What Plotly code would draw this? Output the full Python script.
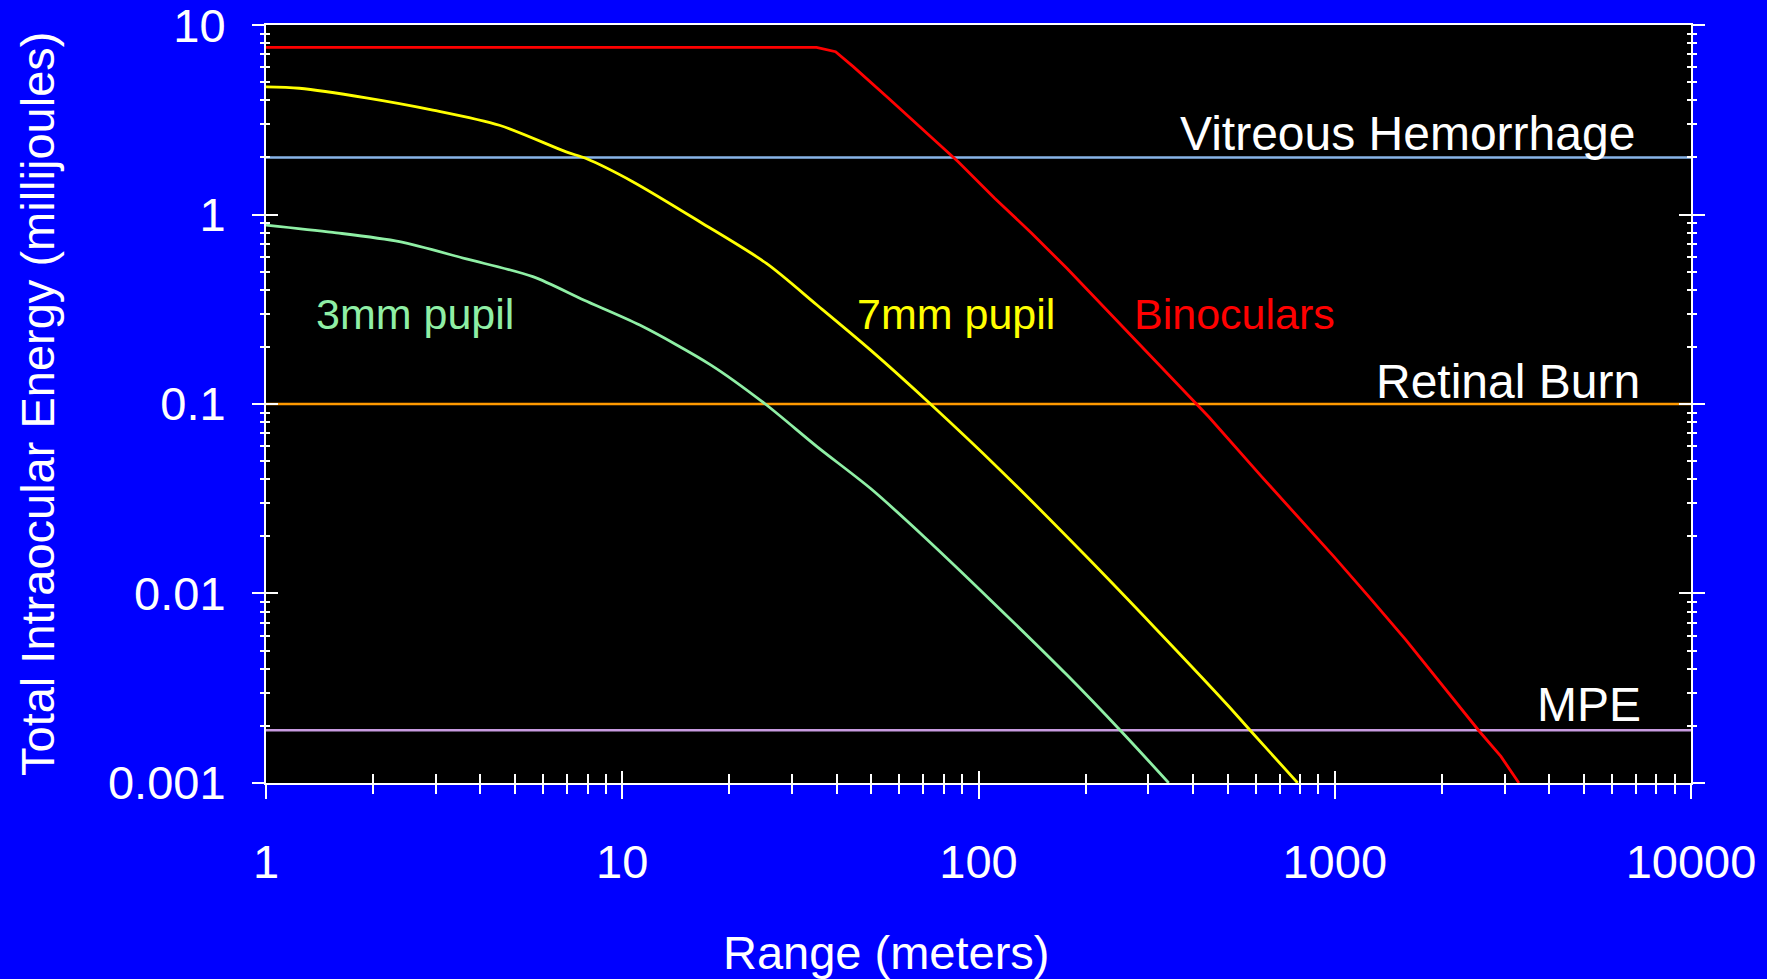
import plotly.graph_objects as go

# ---------------- data ----------------
range_binoculars = [1, 2, 5, 10, 20, 35.1, 39.7, 44.5, 55.7, 69.9, 87.7, 111, 141, 177, 222,
                    444, 626, 885, 996, 1248, 1583, 2542, 2927, 3288]
energy_binoculars = [7.62, 7.62, 7.62, 7.62, 7.62, 7.62, 7.23, 6.03, 4.13, 2.79, 1.90, 1.22, 0.797,
                     0.520, 0.333, 0.0851, 0.041, 0.0201, 0.0156, 0.0096, 0.00569, 0.00188, 0.00138, 0.00100]

range_7mm = [1, 1.24, 1.91, 2.94, 4.52, 6.96, 7.89, 10.7, 16.5, 25.4, 35.2, 49.7, 73.3, 115,
             198, 314, 500, 581, 787]
energy_7mm = [4.72, 4.64, 4.13, 3.56, 2.96, 2.14, 1.98, 1.49, 0.916, 0.552, 0.333, 0.193, 0.100,
              0.0449, 0.0161, 0.00654, 0.00258, 0.00188, 0.00100]

range_3mm = [1, 1.54, 2.37, 3.65, 5.61, 7.79, 11.2, 17.7, 25.2, 35.2, 49.7, 70.2, 108, 177, 251, 342]
energy_3mm = [0.880, 0.805, 0.719, 0.583, 0.470, 0.354, 0.261, 0.161, 0.100, 0.0596, 0.0359,
              0.0200, 0.00925, 0.00372, 0.00188, 0.00100]

threshold_names = ["Vitreous Hemorrhage", "Retinal Burn", "MPE"]
threshold_values = [2.0, 0.1, 0.0019]
threshold_range = [1, 10000]

x_tick_values = [1, 10, 100, 1000, 10000]
x_tick_labels = ["1", "10", "100", "1000", "10000"]
y_tick_values = [0.001, 0.01, 0.1, 1, 10]
y_tick_labels = ["0.001", "0.01", "0.1", "1", "10"]

# ---------------- styles ----------------
FONT = "Liberation Sans, Arial, sans-serif"
FS = 47
threshold_colors = ["#88B4E8", "#FF9900", "#C89BE0"]
curve_colors = {"3mm pupil": "#8FEFA5", "7mm pupil": "#FFFF00", "Binoculars": "#FF0000"}
curve_shapes = {"3mm pupil": "spline", "7mm pupil": "spline", "Binoculars": "linear"}

x_minor = [m * 10 ** d for d in range(0, 4) for m in range(2, 10)]
y_minor = [m * 10.0 ** d for d in range(-3, 1) for m in range(2, 10)]

XR = [0, 4]
YR = [-3.0003, 1.0003]

fig = go.Figure()

for name, val, col in zip(threshold_names, threshold_values, threshold_colors):
    fig.add_trace(go.Scatter(x=threshold_range, y=[val, val], mode="lines",
                             line=dict(color=col, width=2.5), showlegend=False,
                             hoverinfo="skip"))

for name, xs, ys in [("3mm pupil", range_3mm, energy_3mm),
                     ("7mm pupil", range_7mm, energy_7mm),
                     ("Binoculars", range_binoculars, energy_binoculars)]:
    line = dict(color=curve_colors[name], width=2.8, shape=curve_shapes[name])
    if curve_shapes[name] == "spline":
        line["smoothing"] = 0.8
    fig.add_trace(go.Scatter(x=xs, y=ys, mode="lines", name=name, line=line,
                             showlegend=False))

# invisible trace on the overlay axes so they render
fig.add_trace(go.Scatter(x=[1], y=[1], xaxis="x2", yaxis="y2", mode="markers",
                         marker=dict(opacity=0), showlegend=False, hoverinfo="skip"))

axis_common = dict(type="log", showgrid=False, zeroline=False, automargin=False)

fig.update_layout(
    width=1767, height=979,
    margin=dict(l=266, r=76, t=25, b=196, autoexpand=False),
    paper_bgcolor="#0000FF", plot_bgcolor="#000000",
    font=dict(family=FONT, size=FS, color="white"),
    xaxis=dict(**axis_common, range=XR, showline=True, linecolor="white", linewidth=2,
               mirror=True, ticks="outside", ticklen=14, tickwidth=2, tickcolor="white",
               tickmode="array", tickvals=x_tick_values, ticktext=x_tick_labels,
               ticklabelstandoff=23, ticklabeloverflow="allow",
               tickfont=dict(family=FONT, size=FS, color="white"),
               minor=dict(ticks="outside", ticklen=9, tickwidth=2, tickcolor="white",
                          tickmode="array", tickvals=x_minor)),
    yaxis=dict(**axis_common, range=YR, showline=True, linecolor="white", linewidth=2,
               mirror="ticks", ticks="outside", ticklen=12, tickwidth=2, tickcolor="white",
               tickmode="array", tickvals=y_tick_values, ticktext=y_tick_labels,
               ticklabelstandoff=17, ticklabeloverflow="allow",
               tickfont=dict(family=FONT, size=FS, color="white"),
               minor=dict(ticks="outside", ticklen=4, tickwidth=2, tickcolor="white",
                          tickmode="array", tickvals=y_minor)),
    xaxis2=dict(**axis_common, range=XR, overlaying="x", anchor="y2", side="bottom",
                showline=False, showticklabels=False, ticks="inside", ticklen=12,
                tickwidth=2, tickcolor="white", tickmode="array", tickvals=x_tick_values,
                minor=dict(ticks="inside", ticklen=9, tickwidth=2, tickcolor="white",
                           tickmode="array", tickvals=x_minor)),
    yaxis2=dict(**axis_common, range=YR, overlaying="y", anchor="x2", side="left",
                showline=False, showticklabels=False, mirror="ticks", ticks="inside",
                ticklen=12, tickwidth=2, tickcolor="white", tickmode="array",
                tickvals=y_tick_values,
                minor=dict(ticks="inside", ticklen=4, tickwidth=2, tickcolor="white",
                           tickmode="array", tickvals=y_minor)),
)

def ann(text, x, y, xanchor, color, size):
    fig.add_annotation(text=text, x=x, y=y, xref="x", yref="y", xanchor=xanchor,
                       yanchor="middle", showarrow=False,
                       font=dict(family=FONT, size=size, color=color))

# threshold labels (log10 coordinates)
ann("Vitreous Hemorrhage", 3.848, 0.43, "right", "white", 48)
ann("Retinal Burn", 3.862, -0.88, "right", "white", 48)
ann("MPE", 3.865, -2.585, "right", "white", 48)
# curve labels
ann("3mm pupil", 0.136, -0.527, "left", curve_colors["3mm pupil"], 43)
ann("7mm pupil", 1.653, -0.527, "left", curve_colors["7mm pupil"], 43)
ann("Binoculars", 2.431, -0.527, "left", curve_colors["Binoculars"], 43)

# axis titles
fig.add_annotation(text="Range (meters)", xref="paper", yref="paper",
                   x=(886 - 266) / 1425, y=-(952 - 783) / 758, xanchor="center",
                   yanchor="middle", showarrow=False,
                   font=dict(family=FONT, size=FS, color="white"))
fig.add_annotation(text="Total Intraocular Energy (millijoules)", xref="paper", yref="paper",
                   x=(37 - 266) / 1425, y=0.5, xanchor="center", yanchor="middle",
                   textangle=-90, showarrow=False,
                   font=dict(family=FONT, size=FS, color="white"))

fig.write_html("out.html")
